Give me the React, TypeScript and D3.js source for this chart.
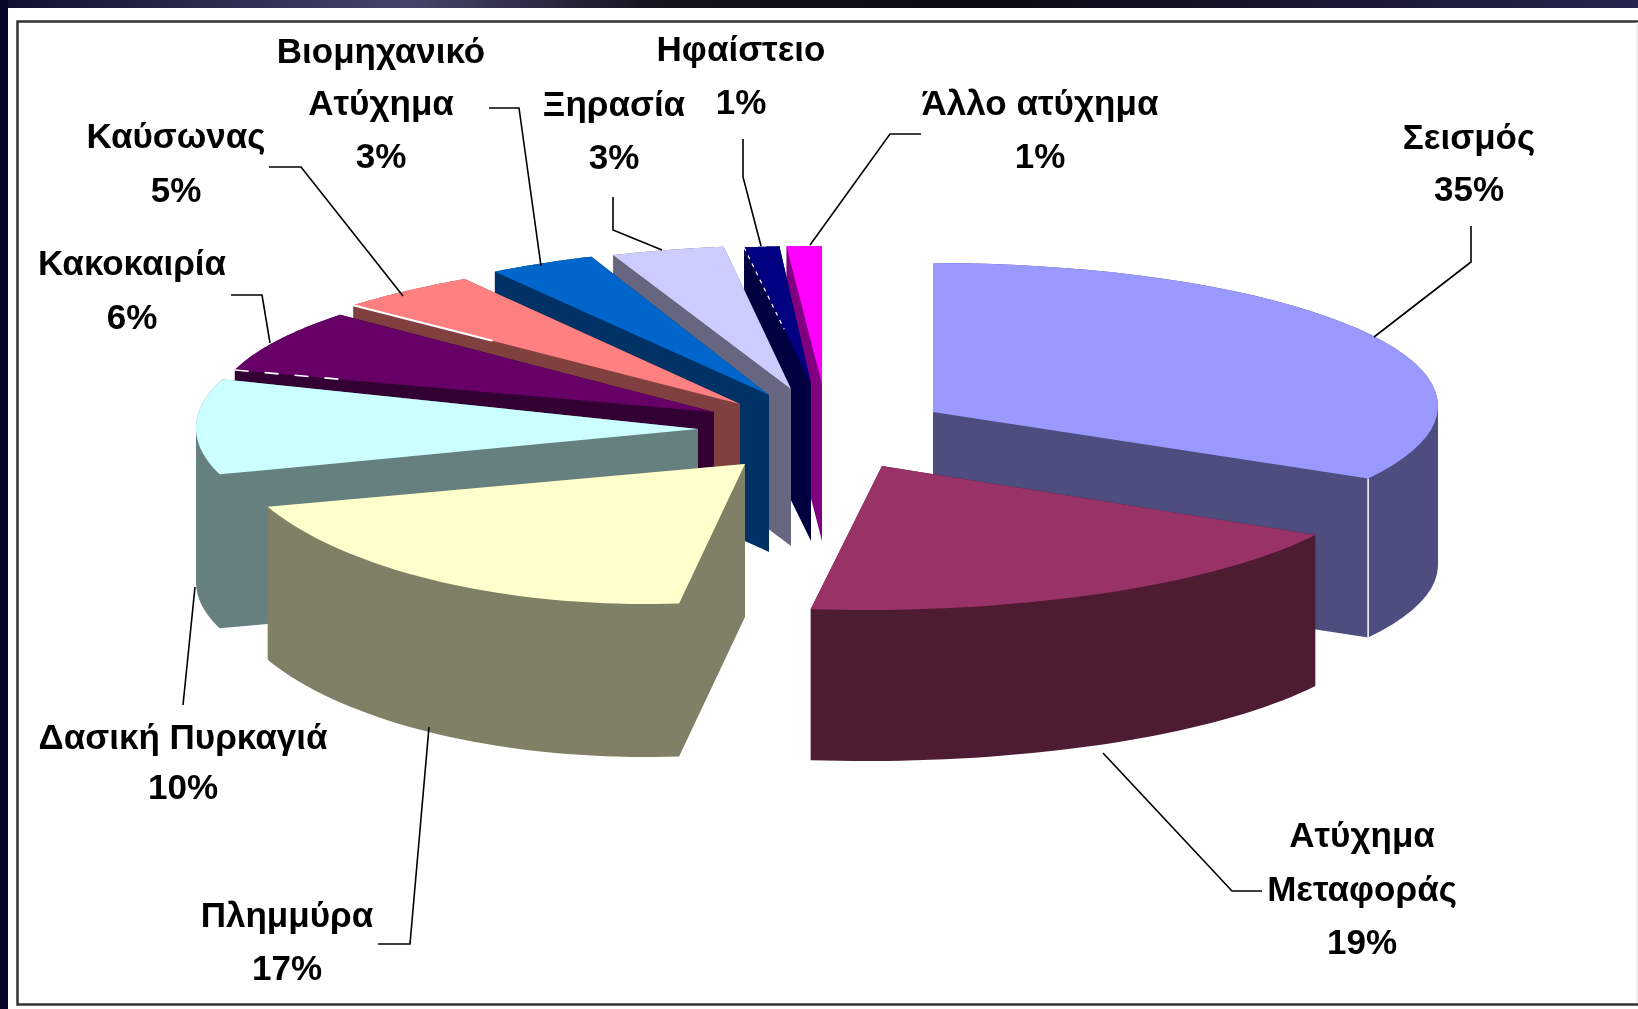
import * as d3 from 'd3';

const width = 1638;
const height = 1009;

const categories = [
  'Σεισμός',
  'Ατύχημα Μεταφοράς',
  'Πλημμύρα',
  'Δασική Πυρκαγιά',
  'Κακοκαιρία',
  'Καύσωνας',
  'Βιομηχανικό Ατύχημα',
  'Ξηρασία',
  'Ηφαίστειο',
  'Άλλο ατύχημα',
];
const values = [35, 19, 17, 10, 6, 5, 3, 3, 1, 1];
const colors = ['#9999ff', '#993366', '#ffffcc', '#ccffff', '#660066', '#ff8080', '#0066cc', '#ccccff', '#000080', '#ff00ff'];

// the old 3D renderer squeezes every exploded slice differently, so each one
// gets its own apex, rim ellipse, wall height and a small angle correction (degrees)
const sliceViews = [
  { apex: [933, 412], c: [933, 406], rx: 505, ry: 143, adj: [0, -5.5], depth: 159 },
  { apex: [882, 466], c: [865, 460], rx: 520, ry: 150, adj: [-6, -8.4], depth: 151 },
  { apex: [745, 464], c: [645, 424], rx: 425, ry: 180, adj: [-19, -13], depth: 153 },
  { apex: [698, 429], c: [680, 428], rx: 484, ry: 150, adj: [-3.6, -2.6], depth: 154 },
  { apex: [714, 412], c: [725, 410], rx: 510, ry: 145, adj: [-5.6, -2.2], depth: 156 },
  { apex: [740, 404], c: [750, 405], rx: 534, ry: 149, adj: [-1.2, -3.5], depth: 156 },
  { apex: [769, 395], c: [780, 396], rx: 510, ry: 150, adj: [-5.2, -3.7], depth: 157 },
  { apex: [791, 389], c: [800, 390], rx: 510, ry: 145, adj: [-3.5, -1.4], depth: 157 },
  { apex: [811, 384], c: [815, 385], rx: 510, ry: 139, adj: [-0.8, -0.4], depth: 157 },
  { apex: [822, 384], c: [822, 385], rx: 510, ry: 139, adj: [-0.4, 0], depth: 157 },
];
// back to front
const paintOrder = [9, 8, 7, 6, 5, 4, 3, 0, 2, 1];

// white gaps the renderer left along a slice's first edge, as a share of that edge
const edgeSeams = [
  { slice: 5, share: 0.36, dash: 'none', w: 2 },
  { slice: 4, share: 0.24, dash: '14 16', w: 1.6 },
  { slice: 8, share: 0.6, dash: '4 5', w: 1.2 },
];

// label lines and their centre / baselines
const labelLines = [
  ['Σεισμός'],
  ['Ατύχημα', 'Μεταφοράς'],
  ['Πλημμύρα'],
  ['Δασική Πυρκαγιά'],
  ['Κακοκαιρία'],
  ['Καύσωνας'],
  ['Βιομηχανικό', 'Ατύχημα'],
  ['Ξηρασία'],
  ['Ηφαίστειο'],
  ['Άλλο ατύχημα'],
];
const labelSpots = [
  { x: 1469, y: [149, 201] },
  { x: 1362, y: [847, 901, 954] },
  { x: 287, y: [927, 980] },
  { x: 183, y: [749, 799] },
  { x: 132, y: [275, 329] },
  { x: 176, y: [148, 202] },
  { x: 381, y: [63, 115, 168] },
  { x: 614, y: [116, 169] },
  { x: 741, y: [61, 114] },
  { x: 1040, y: [115, 168] },
];
const leaders = [
  [[1471, 226], [1471, 262], [1374, 337]],
  [[1103, 753], [1232, 891], [1262, 891]],
  [[429, 727], [410, 944], [378, 944]],
  [[195, 587], [183, 705]],
  [[231, 295], [262, 295], [270, 343]],
  [[269, 167], [301, 167], [403, 296]],
  [[489, 108], [519, 108], [541, 266]],
  [[613, 197], [613, 230], [662, 250]],
  [[743, 139], [743, 177], [761, 246]],
  [[921, 134], [890, 134], [810, 245]],
];

const pie = d3.pie<number>().sort(null).startAngle(0).endAngle(2 * Math.PI);
const arcs = pie(values);
const line = d3.line();

function halfTone(color: string) {
  const c = d3.rgb(color);
  return d3.rgb(c.r / 2, c.g / 2, c.b / 2).formatHex();
}

function rimPoints(i: number): [number, number][] {
  const view = sliceViews[i];
  const a0 = arcs[i].startAngle + (view.adj[0] * Math.PI) / 180;
  const a1 = arcs[i].endAngle + (view.adj[1] * Math.PI) / 180;
  const angle = d3.scaleLinear().domain([0, 40]).range([a0, a1]);
  return d3.range(41).map((k) => [
    view.c[0] + view.rx * Math.sin(angle(k)),
    view.c[1] - view.ry * Math.cos(angle(k)),
  ]);
}

function Slice({ index }: { index: number }) {
  const view = sliceViews[index];
  const top = [view.apex as [number, number], ...rimPoints(index)];
  // every slice is convex, so the extruded body is just the hull of top and bottom
  const body = d3.polygonHull([...top, ...top.map(([x, y]) => [x, y + view.depth] as [number, number])]);
  return (
    <g>
      <path d={line(body!) + 'Z'} fill={halfTone(colors[index])} />
      <path d={line(top) + 'Z'} fill={colors[index]} />
    </g>
  );
}

export default function App() {
  const seam = rimPoints(0)[40];
  return (
    <svg
      width={width}
      height={height}
      viewBox={`0 0 ${width} ${height}`}
      style={{ position: 'fixed', left: 0, top: 0, display: 'block', background: '#fff' }}
      role="img"
      aria-label={categories.join(', ')}
    >
      <defs>
        <linearGradient id="band" x1="0" x2="1" y1="0" y2="0">
          <stop offset="0" stopColor="#0f0f33" />
          <stop offset="0.25" stopColor="#45456c" />
          <stop offset="0.4" stopColor="#14141f" />
          <stop offset="0.6" stopColor="#0a0a12" />
          <stop offset="1" stopColor="#25254f" />
        </linearGradient>
        <filter id="soft" x="-2%" y="-2%" width="104%" height="104%">
          <feGaussianBlur stdDeviation="0.7" />
        </filter>
      </defs>

      <rect x={0} y={0} width={width} height={8} fill="url(#band)" />
      <rect x={0} y={0} width={8} height={height} fill="#07072a" />
      <rect x={17.5} y={21.5} width={width} height={983} fill="none" stroke="#333" strokeWidth={2.5} filter="url(#soft)" />
      <line x1={1637} x2={1637} y1={22} y2={1003} stroke="#ddd" />

      <g filter="url(#soft)">
        {paintOrder.map((i) => (
          <Slice key={categories[i]} index={i} />
        ))}
        <line x1={seam[0]} x2={seam[0]} y1={seam[1]} y2={seam[1] + sliceViews[0].depth} stroke="#fff" strokeWidth={1.5} />
        {edgeSeams.map((s) => {
          const from = rimPoints(s.slice)[0];
          const to = d3.interpolate(from, sliceViews[s.slice].apex)(s.share);
          return (
            <line key={s.slice} x1={from[0]} y1={from[1]} x2={to[0]} y2={to[1]} stroke="#fff" strokeWidth={s.w} strokeDasharray={s.dash} />
          );
        })}

        {leaders.map((pts, i) => (
          <path key={categories[i]} d={line(pts as [number, number][])} fill="none" stroke="#000" strokeWidth={1.6} />
        ))}

        <g fontFamily="'Liberation Sans', Arial, sans-serif" fontWeight="bold" fontSize={35} textAnchor="middle" fill="#000">
          {labelSpots.map((spot, i) =>
            [...labelLines[i], `${values[i]}%`].map((text, k) => (
              <text key={k} x={spot.x} y={spot.y[k]}>
                {text}
              </text>
            ))
          )}
        </g>
      </g>
    </svg>
  );
}
